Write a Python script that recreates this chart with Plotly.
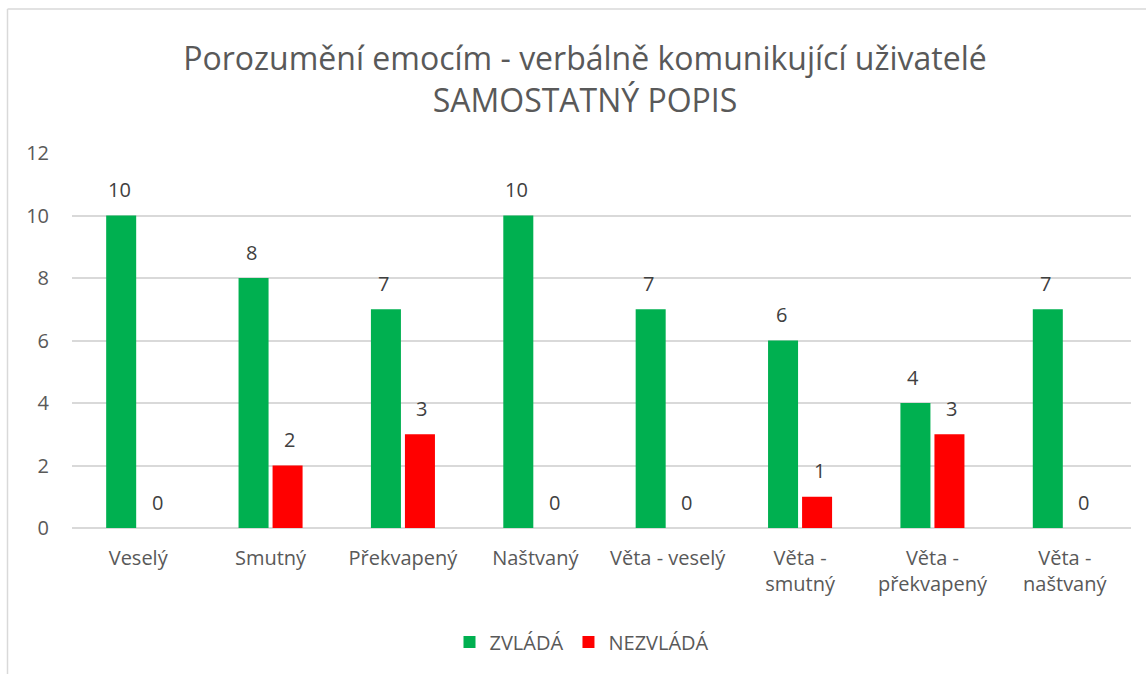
import plotly.graph_objects as go

categories = ["Veselý", "Smutný", "Překvapený", "Naštvaný", "Věta - veselý",
              "Věta -<br>smutný", "Věta -<br>překvapený", "Věta -<br>naštvaný"]
zvlada = [10, 8, 7, 10, 7, 6, 4, 7]
nezvlada = [0, 2, 3, 0, 0, 1, 3, 0]
series_names = ["ZVLÁDÁ", "NEZVLÁDÁ"]
colors = ["#00B050", "#FF0000"]

W, H = 1146, 674
L, R, T, B = 72, 15, 153, 146
pw = W - L - R
ph = H - T - B

font = "Open Sans, Liberation Sans, sans-serif"

fig = go.Figure()
for name, vals, col in zip(series_names, [zvlada, nezvlada], colors):
    fig.add_trace(go.Bar(x=categories, y=vals, name=name, marker_color=col,
                         marker_line_width=0, hoverinfo="x+y"))

annotations = []
for vals, shift in [(zvlada, -19), (nezvlada, 19)]:
    for c, v in zip(categories, vals):
        annotations.append(dict(x=c, y=v, xref="x", yref="y", text=str(v),
                                showarrow=False, xshift=shift, yshift=26,
                                yanchor="middle",
                                font=dict(family=font, size=20, color="#404040")))

def px2x(p):
    return (p - L) / pw

def py2y(p):
    return (H - B - p) / ph

shapes = [
    dict(type="line", xref="paper", yref="paper", x0=px2x(7.5), x1=px2x(7.5),
         y0=py2y(9), y1=py2y(680), line=dict(color="#d9d9d9", width=1.5)),
    dict(type="line", xref="paper", yref="paper", x0=px2x(7.5), x1=px2x(1160),
         y0=py2y(9), y1=py2y(9), line=dict(color="#d9d9d9", width=1.5)),
]

fig.update_layout(
    width=W, height=H,
    margin=dict(l=L, r=R, t=T, b=B),
    paper_bgcolor="white", plot_bgcolor="white",
    title=dict(text="Porozumění emocím - verbálně komunikující uživatelé<br>SAMOSTATNÝ POPIS",
               x=px2x(585), xref="paper", xanchor="center", y=1 - 70 / H, yanchor="middle",
               font=dict(family=font, size=32, color="#595959")),
    barmode="group", bargap=0.486, bargroupgap=0.118,
    xaxis=dict(showgrid=False, showline=False, ticks="", ticklabelstandoff=16,
               tickfont=dict(family=font, size=20, color="#595959")),
    yaxis=dict(range=[0, 12], dtick=2, showgrid=True, gridcolor="#d9d9d9", gridwidth=1.5,
               zeroline=True, zerolinecolor="#d9d9d9", zerolinewidth=1.5,
               ticks="", ticklabelstandoff=22,
               tickfont=dict(family=font, size=20, color="#595959")),
    legend=dict(orientation="h", x=px2x(582), xanchor="center", y=py2y(642), yanchor="middle",
                font=dict(family=font, size=20, color="#595959"), itemwidth=30,
                traceorder="normal"),
    annotations=annotations,
    shapes=shapes,
)

fig.write_html("out.html", config={"displayModeBar": False},
               post_script="document.body.style.margin='0px';")
